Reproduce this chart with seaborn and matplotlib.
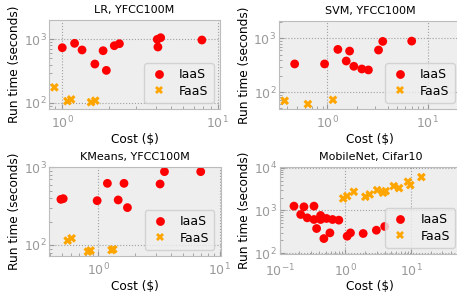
"""Run time vs cost of IaaS and FaaS deployments for four workloads."""

import matplotlib
matplotlib.use("Agg")
import matplotlib.pyplot as plt
import matplotlib.ticker as mticker
import pandas as pd
import seaborn as sns

# LR, YFCC100M
lr_iaas_cost = [1.0, 1.20, 1.34, 1.62, 1.83, 1.92, 2.16, 2.33, 4.08, 4.29, 4.12, 7.9]
lr_iaas_time = [738, 865, 680, 408, 662, 324, 794, 854, 1000, 1062, 757, 976]
lr_faas_cost = [0.89, 1.08, 1.14, 1.53, 1.63]
lr_faas_time = [175, 106, 113, 102, 108]

# SVM, YFCC100M
svm_iaas_cost = [0.474, 0.941, 1.276, 1.545, 1.67, 1.84, 2.21, 2.57, 3.24, 3.57, 6.93]
svm_iaas_time = [335, 335, 625, 380, 582, 303, 270, 259, 608, 880, 892]
svm_faas_cost = [0.377, 0.642, 1.14]
svm_faas_time = [69, 60, 72]

# KMeans, YFCC100M
km_iaas_cost = [0.493, 0.515, 0.98, 1.19, 1.46, 1.63, 1.74, 3.23, 3.51, 6.98]
km_iaas_time = [387, 395, 372, 622, 380, 622, 303, 610, 880, 880]
km_faas_cost = [0.56, 0.604, 0.822, 0.865, 1.287, 1.33]
km_faas_time = [114, 122, 82, 85, 86, 88]

# MobileNet, Cifar10
mn_iaas_cost = [0.165, 0.209, 0.234, 0.263, 0.333, 0.333, 0.42, 0.42, 0.517, 0.638,
                0.796, 0.365, 0.471, 0.582, 1.066, 1.197, 1.87, 2.97, 3.98]
mn_iaas_time = [1265, 805, 1219, 672, 1265, 614, 763, 614, 649, 614,
                593, 377, 219, 298, 249, 298, 288, 344, 421]
mn_faas_cost = [0.927, 1.066, 1.346, 2.02, 2.35, 3.05, 3.76, 4.12, 5.46, 6.58, 9.0, 9.77, 14.4]
mn_faas_time = [1915, 2175, 2750, 2100, 2378, 3006, 2607, 2852, 3740, 3350, 4730, 3945, 6080]

titles = ["LR, YFCC100M", "SVM, YFCC100M", "KMeans, YFCC100M", "MobileNet, Cifar10"]
panels = [
    (lr_iaas_cost, lr_iaas_time, lr_faas_cost, lr_faas_time),
    (svm_iaas_cost, svm_iaas_time, svm_faas_cost, svm_faas_time),
    (km_iaas_cost, km_iaas_time, km_faas_cost, km_faas_time),
    (mn_iaas_cost, mn_iaas_time, mn_faas_cost, mn_faas_time),
]


def _frame(iaas_cost, iaas_time, faas_cost, faas_time):
    iaas = pd.DataFrame({"cost": iaas_cost, "time": iaas_time, "kind": "IaaS"})
    faas = pd.DataFrame({"cost": faas_cost, "time": faas_time, "kind": "FaaS"})
    return pd.concat([iaas, faas], ignore_index=True)


sns.set_style("darkgrid", rc={
    "axes.facecolor": "#eeeeee",
    "axes.edgecolor": "#bcbcbc",
    "axes.linewidth": 1.0,
    "grid.color": "#a0a0a0",
    "grid.linestyle": ":",
    "grid.linewidth": 0.9,
    "xtick.color": "#999999",
    "ytick.color": "#999999",
    "xtick.bottom": True,
    "ytick.left": True,
    "xtick.direction": "in",
    "ytick.direction": "in",
    "axes.labelcolor": "black",
    "text.color": "black",
})
plt.rcParams["font.family"] = ["DejaVu Sans"]

fig = plt.figure(figsize=(4.57, 2.94), dpi=100)
rects = [
    (0.108, 0.629, 0.373, 0.303),
    (0.6105, 0.629, 0.398, 0.299),
    (0.108, 0.129, 0.375, 0.303),
    (0.612, 0.136, 0.397, 0.296),
]
xlims = [(0.826, 10.3), (0.331, 21.4), (0.396, 10.2), (0.1, 58)]
ylims = [(79.5, 2020), (48.4, 2096), (72, 1010), (95, 10500)]
xpads = [4, 4, 4, 6]

palette = {"IaaS": "red", "FaaS": "orange"}
markers = {"IaaS": "o", "FaaS": "X"}

for rect, title, data, xl, yl, xpad in zip(rects, titles, panels, xlims, ylims, xpads):
    ax = fig.add_axes(rect)
    df = _frame(*data)
    sns.scatterplot(data=df, x="cost", y="time", hue="kind", style="kind",
                    palette=palette, markers=markers, s=40, linewidth=0,
                    ax=ax)
    ax.set_xscale("log")
    ax.set_yscale("log")
    ax.set_xlim(*xl)
    ax.set_ylim(*yl)
    ax.xaxis.set_minor_formatter(mticker.NullFormatter())
    ax.yaxis.set_minor_formatter(mticker.NullFormatter())
    ax.tick_params(which="both", labelsize=9)
    ax.tick_params(axis="x", which="both", pad=xpad)
    ax.tick_params(axis="y", which="both", pad=2)
    ax.grid(True, which="major")
    ax.grid(False, which="minor")
    ax.set_title(title, fontsize=8, pad=5)
    ax.set_xlabel("Cost ($)", fontsize=8.7, labelpad=1)
    ax.set_ylabel("Run time (seconds)", fontsize=8.7, labelpad=2)
    sns.move_legend(ax, "lower right", title=None, fontsize=9,
                    frameon=True, edgecolor="#cccccc", handlelength=1.6,
                    labelspacing=0.3, borderpad=0.4, handletextpad=0.8)

fig.savefig("out.png", dpi=100)
